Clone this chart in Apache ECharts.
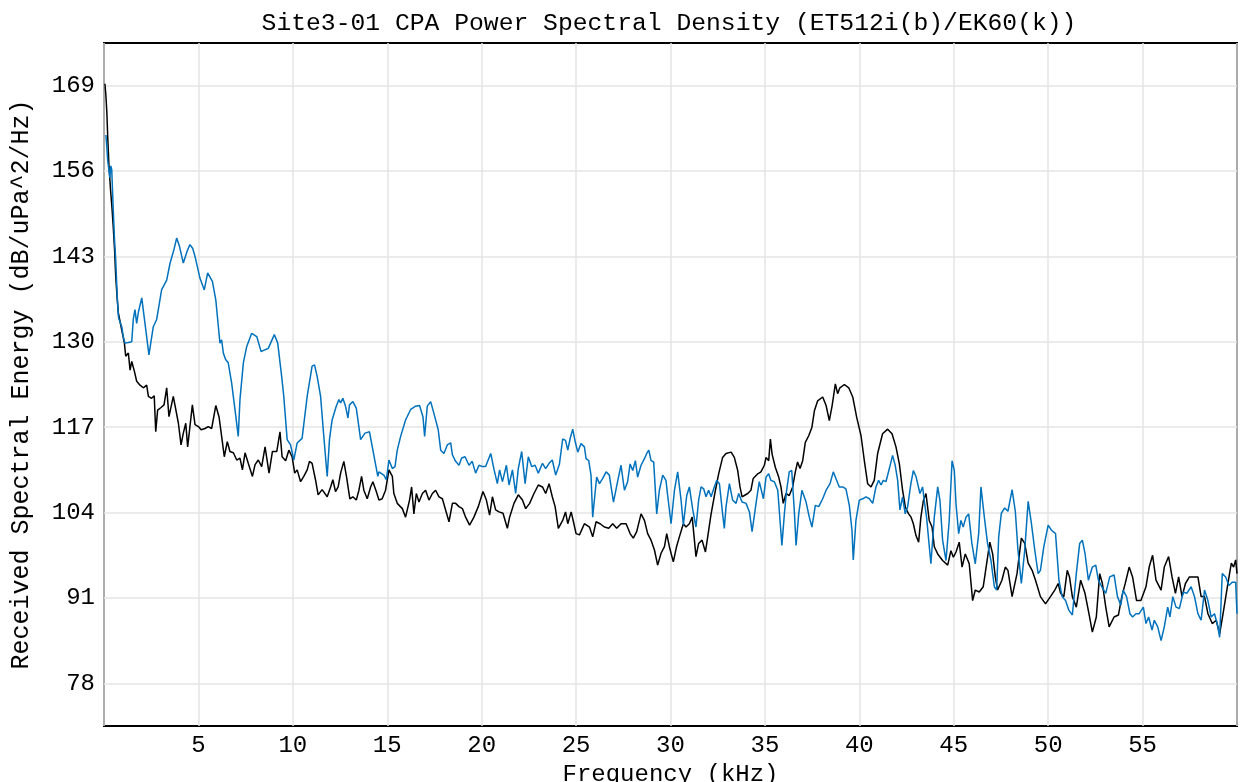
<!DOCTYPE html>
<html>
<head>
<meta charset="utf-8">
<script src="https://cdn.jsdelivr.net/npm/echarts@6/dist/echarts.min.js"></script>
<style>html,body{margin:0;padding:0;background:#fff}#c{width:1241px;height:782px}</style>
</head>
<body>
<div id="c"></div>
<script>
const titleText = 'Site3-01 CPA Power Spectral Density (ET512i(b)/EK60(k))';
const xName = 'Frequency (kHz)';
const yName = 'Received Spectral Energy (dB/uPa^2/Hz)';
const xTicks = [5,10,15,20,25,30,35,40,45,50,55];
const yTicks = [78,91,104,117,130,143,156,169];

// EK60 (k) - black
const ek60Freq = [0.05,0.1,0.15,0.2,0.26,0.35,0.42,0.49,0.56,0.62,0.7,0.76,0.94,1.08,1.15,1.29,1.38,1.47,1.61,1.73,1.91,2.08,2.26,2.35,2.52,2.66,2.74,2.84,3.02,3.18,3.32,3.44,3.67,3.94,4.08,4.2,4.33,4.43,4.68,4.82,5.0,5.14,5.35,5.52,5.7,5.92,6.09,6.23,6.37,6.53,6.67,6.85,7.03,7.2,7.33,7.47,7.64,7.86,8.0,8.17,8.35,8.53,8.74,8.92,9.15,9.32,9.43,9.62,9.79,9.96,10.1,10.23,10.41,10.58,10.76,10.88,11.02,11.2,11.34,11.55,11.82,12.0,12.12,12.26,12.4,12.53,12.7,12.84,13.02,13.18,13.36,13.5,13.64,13.76,13.94,14.12,14.24,14.42,14.56,14.73,14.91,15.09,15.27,15.35,15.53,15.8,15.97,16.18,16.29,16.41,16.54,16.68,16.86,17.03,17.21,17.39,17.56,17.74,17.92,18.09,18.27,18.45,18.62,18.8,18.98,19.15,19.36,19.59,19.82,20.07,20.25,20.42,20.57,20.74,20.92,21.13,21.36,21.48,21.71,21.94,22.16,22.33,22.54,22.77,23.0,23.22,23.39,23.57,23.74,23.89,24.06,24.29,24.44,24.56,24.74,24.86,25.0,25.18,25.44,25.71,25.88,26.06,26.27,26.5,26.73,26.94,27.15,27.38,27.65,27.86,28.03,28.21,28.44,28.62,28.79,28.97,29.15,29.32,29.5,29.68,29.8,29.94,30.15,30.32,30.47,30.68,30.82,31.0,31.15,31.35,31.49,31.67,31.85,31.97,32.15,32.38,32.55,32.76,32.94,33.21,33.38,33.56,33.68,33.79,33.91,34.09,34.26,34.38,34.62,34.79,34.97,35.06,35.2,35.29,35.38,35.55,35.73,35.85,35.97,36.12,36.29,36.47,36.61,36.73,36.86,37.0,37.14,37.32,37.49,37.62,37.79,38.06,38.24,38.41,38.56,38.73,38.85,38.97,39.21,39.44,39.65,39.86,40.09,40.26,40.44,40.62,40.79,40.97,41.23,41.5,41.73,41.94,42.12,42.29,42.44,42.61,42.74,42.86,43.0,43.14,43.26,43.39,43.53,43.7,43.85,43.97,44.15,44.41,44.68,44.85,44.98,45.12,45.29,45.44,45.61,45.82,46.0,46.14,46.35,46.56,46.74,46.91,47.06,47.2,47.32,47.55,47.73,47.87,48.09,48.35,48.58,48.76,48.94,49.15,49.33,49.59,49.86,50.12,50.35,50.53,50.66,50.83,51.01,51.13,51.28,51.49,51.72,51.95,52.16,52.34,52.55,52.73,52.87,53.05,53.23,53.49,53.72,53.9,54.08,54.29,54.47,54.68,54.91,55.18,55.35,55.53,55.71,55.98,56.15,56.38,56.56,56.74,56.91,57.09,57.27,57.48,57.75,57.93,58.1,58.28,58.46,58.69,58.9,59.08,59.29,59.52,59.7,59.82,59.93,60.0];
const ek60Level = [169.3,167.5,165,161,157,153,150.5,147.5,144,140,136.5,134.4,131.8,129.8,127.8,128.3,125.7,127.0,125.5,124.0,123.4,123.0,123.4,121.7,121.4,121.8,116.3,119.6,120.0,120.4,123.0,118.6,121.7,117.6,114.3,116.1,117.6,114.0,120.4,117.4,117.1,116.6,116.8,117.1,116.8,120.3,118.6,115.6,112.5,114.8,113.3,113.1,112.0,112.3,110.5,113.1,111.5,109.5,111.3,112.0,111.0,114.0,110.0,113.3,113.3,116.3,112.5,111.9,113.5,112.5,110.0,110.5,108.7,109.5,110.5,111.8,111.5,109.0,106.7,107.5,106.4,107.9,109.0,107.2,107.9,110.0,111.8,109.5,106.1,106.4,105.9,107.4,109.5,107.4,106.1,107.9,108.7,107.2,105.9,106.1,107.4,110.5,109.5,106.9,105.4,104.6,103.3,105.9,107.9,103.8,106.9,105.6,106.9,107.4,105.9,106.9,107.4,106.4,106.1,104.4,102.6,105.4,105.4,104.9,104.6,103.3,102.1,103.3,104.9,107.2,105.9,103.6,106.4,104.4,104.1,103.9,101.6,103.3,105.4,106.7,105.9,104.6,105.4,106.9,108.2,107.9,106.9,108.4,106.4,104.9,101.6,102.8,104.1,102.3,104.1,102.6,100.8,100.6,102.3,101.8,100.3,102.6,102.3,101.8,101.6,102.3,101.6,102.3,102.3,100.8,100.1,101.1,103.8,102.8,100.8,99.8,98.3,96.0,97.8,98.8,100.8,98.8,96.5,98.8,100.3,102.3,101.8,102.3,103.3,97.3,99.3,99.8,98.0,100.3,103.8,107.4,109.9,112.4,113.0,113.2,112.4,110.4,107.9,106.4,106.6,106.9,107.4,109.2,109.9,110.2,111.2,112.4,111.9,115.2,112.9,110.9,109.4,107.9,105.4,106.9,106.6,107.9,110.2,111.7,110.7,111.9,114.7,115.7,117.0,119.5,121.0,121.6,120.3,118.0,120.3,123.6,122.1,123.0,123.5,123.0,121.6,118.5,115.7,112.0,108.4,107.9,108.9,113.0,116.0,116.7,116.0,114.0,111.4,107.4,104.8,103.8,103.3,102.3,100.5,99.5,103.3,105.8,106.9,102.8,101.8,98.8,97.7,96.7,96.0,98.2,97.2,98.0,99.5,95.7,97.7,96.2,90.6,92.2,91.9,92.7,96.2,99.5,97.7,94.2,92.2,93.7,95.7,95.2,91.2,94.7,100.1,99.3,96.3,95.2,93.7,91.2,90.1,91.2,92.2,93.2,91.7,91.2,95.2,94.2,91.2,89.6,93.7,91.7,88.6,85.8,88.1,94.7,93.2,89.6,86.6,88.1,88.4,91.2,93.2,95.7,94.2,90.6,90.6,92.7,95.7,97.5,93.7,92.2,95.7,97.3,94.2,91.7,94.2,91.2,93.2,94.2,94.2,94.2,91.2,91.2,88.6,87.1,87.6,85.5,89.1,93.2,96.3,95.7,96.8,94.7];

// ET512i (b) - blue
const et512Freq = [0.1,0.14,0.2,0.26,0.31,0.36,0.41,0.49,0.55,0.62,0.7,0.76,0.8,0.94,1.02,1.11,1.3,1.47,1.55,1.64,1.73,1.82,2.0,2.17,2.38,2.61,2.79,3.05,3.32,3.5,3.7,3.85,4.0,4.2,4.4,4.55,4.7,4.82,5.08,5.31,5.49,5.74,5.92,6.14,6.23,6.32,6.44,6.58,6.76,6.94,7.11,7.2,7.38,7.56,7.82,8.09,8.32,8.53,8.7,9.02,9.2,9.41,9.52,9.7,9.88,10.05,10.23,10.49,10.76,11.02,11.15,11.29,11.47,11.64,11.82,11.94,12.08,12.3,12.44,12.53,12.65,12.79,12.92,13.0,13.18,13.36,13.59,13.82,14.06,14.24,14.5,14.56,14.82,14.95,15.09,15.27,15.41,15.53,15.71,15.97,16.24,16.5,16.71,16.89,16.98,17.12,17.3,17.47,17.7,17.83,18.0,18.18,18.36,18.45,18.62,18.8,18.94,19.12,19.33,19.5,19.68,19.86,20.04,20.21,20.48,20.66,20.83,20.95,21.1,21.31,21.45,21.63,21.8,21.94,22.12,22.3,22.47,22.65,22.83,23.0,23.22,23.39,23.57,23.74,23.92,24.12,24.29,24.44,24.56,24.68,24.82,24.96,25.09,25.26,25.44,25.53,25.67,25.79,25.88,26.02,26.09,26.24,26.41,26.59,26.76,26.98,27.21,27.38,27.56,27.73,27.86,28.0,28.14,28.26,28.44,28.62,28.74,28.85,28.97,29.11,29.27,29.41,29.59,29.76,29.85,30.03,30.21,30.38,30.56,30.68,30.86,31.0,31.18,31.35,31.49,31.62,31.76,31.88,32.02,32.15,32.32,32.45,32.59,32.76,32.85,32.94,33.12,33.29,33.47,33.61,33.79,34.0,34.18,34.32,34.53,34.7,34.92,35.06,35.2,35.32,35.5,35.68,35.8,35.9,36.03,36.15,36.29,36.42,36.56,36.65,36.79,36.96,37.18,37.35,37.49,37.67,37.85,38.06,38.24,38.45,38.62,38.76,38.94,39.12,39.29,39.47,39.61,39.68,39.82,40.0,40.18,40.35,40.53,40.71,40.88,41.02,41.15,41.27,41.41,41.59,41.76,41.9,42.03,42.15,42.29,42.43,42.56,42.73,42.86,43.0,43.21,43.35,43.44,43.56,43.79,43.97,44.15,44.27,44.41,44.59,44.76,44.91,45.03,45.12,45.26,45.38,45.5,45.65,45.79,45.96,46.14,46.32,46.44,46.62,46.79,46.97,47.15,47.27,47.38,47.52,47.7,47.87,48.09,48.26,48.4,48.58,48.76,48.94,49.11,49.29,49.47,49.59,49.77,50.0,50.18,50.39,50.57,50.74,50.92,51.1,51.28,51.49,51.67,51.81,51.95,52.13,52.34,52.52,52.66,52.84,53.05,53.26,53.49,53.67,53.85,53.97,54.15,54.33,54.47,54.65,54.82,55.04,55.18,55.32,55.5,55.62,55.8,55.98,56.15,56.33,56.45,56.6,56.77,56.95,57.16,57.34,57.57,57.75,57.93,58.1,58.28,58.46,58.63,58.81,58.99,59.08,59.22,59.4,59.57,59.75,59.93,60.0];
const et512Level = [161.5,160,157.5,157.2,155,156.8,156.2,150.1,146,142.5,137,133.9,133.4,132.3,130.8,129.8,129.9,130.0,133.4,134.9,132.8,134.5,136.7,132.8,128.0,132.3,133.4,137.9,139.4,142.0,144.0,145.8,144.5,142.0,143.8,144.8,144.2,143.0,139.7,137.9,140.5,139.2,136.4,129.8,130.3,128.3,127.3,126.8,123.7,119.6,115.6,121.2,126.8,129.3,131.3,130.8,128.5,128.8,129.0,131.1,129.8,124.7,121.7,115.1,114.3,112.0,114.6,115.3,121.7,126.3,126.5,124.7,121.7,115.6,109.5,115.1,118.1,120.2,121.2,120.7,121.4,120.2,118.4,120.4,120.9,119.9,115.1,116.1,116.3,113.5,109.5,110.2,109.7,109.0,112.0,110.7,111.0,113.5,115.6,118.1,119.7,120.2,120.3,118.6,115.6,120.2,120.9,119.1,116.6,113.5,113.0,114.3,114.6,112.8,111.8,111.2,112.3,112.5,111.2,111.8,110.0,111.2,111.0,111.0,113.0,110.5,108.4,110.5,108.7,111.2,108.2,110.5,106.9,110.7,113.3,108.4,112.5,111.0,111.2,110.0,111.5,110.7,111.5,112.0,109.7,111.4,115.2,115.0,113.5,115.2,116.7,114.7,113.2,114.5,114.0,112.2,111.9,109.7,103.3,107.4,109.4,108.4,109.2,110.2,109.7,105.6,108.9,111.2,107.4,108.7,111.4,110.4,111.9,109.4,111.2,112.2,113.0,113.5,111.9,111.7,103.8,107.4,109.7,108.9,106.6,102.3,107.4,110.2,105.9,102.1,106.6,107.9,104.4,101.8,105.9,107.9,107.6,106.4,107.4,106.4,107.9,108.9,108.4,103.8,101.6,104.9,108.4,105.9,105.4,106.9,105.6,105.4,104.1,101.1,105.4,108.7,106.1,109.4,109.9,108.9,108.7,107.4,102.8,99.0,103.8,107.4,110.2,110.4,104.1,99.0,103.8,107.4,105.6,103.3,101.8,105.1,104.9,106.1,107.4,108.4,110.2,109.2,107.9,107.9,107.6,105.1,101.3,96.8,102.8,105.9,106.1,106.4,106.1,105.4,107.9,108.9,108.2,108.9,108.7,110.7,112.7,111.2,108.9,104.4,106.4,103.8,104.9,108.4,110.4,109.5,106.9,107.9,105.8,103.3,96.2,103.3,107.9,105.8,99.8,96.7,102.8,111.9,110.4,105.3,100.8,102.8,101.8,103.3,103.8,99.3,96.2,100.8,107.9,103.3,99.3,96.7,92.7,92.2,100.3,103.9,104.7,104.2,107.5,104.2,98.3,93.2,98.3,105.7,102.4,98.3,94.7,95.2,98.8,102.1,101.3,100.8,93.7,91.2,90.6,89.1,88.4,94.7,99.3,99.8,97.8,93.7,95.7,96.0,93.7,92.7,91.7,94.2,94.5,91.2,89.9,92.2,91.2,88.6,88.1,88.6,88.6,89.6,87.1,88.1,86.1,87.6,86.6,84.5,86.6,89.6,88.1,91.2,89.6,89.4,91.9,91.7,92.7,91.2,88.6,87.6,92.2,90.6,88.1,88.6,86.6,85.0,94.7,94.2,92.9,93.4,93.4,88.6];

const zip = (a, b) => a.map((v, i) => [v, b[i]]);
const FONT = 'Liberation Mono';

const chart = echarts.init(document.getElementById('c'), null, {renderer: 'canvas'});
chart.setOption({
  animation: false,
  backgroundColor: '#fff',
  title: {
    text: titleText,
    left: 664, top: 6, textAlign: 'center',
    textStyle: {fontFamily: FONT, fontSize: 24.7, fontWeight: 'normal', color: '#000'}
  },
  grid: {left: 104, top: 43, right: 4, bottom: 56, containLabel: false, outerBoundsMode: 'none',
         show: true, borderColor: '#000', borderWidth: 2, backgroundColor: 'transparent'},
  xAxis: {
    type: 'value', min: 0, max: 60, interval: 5,
    name: xName, nameLocation: 'middle', nameGap: 31,
    nameTextStyle: {fontFamily: FONT, fontSize: 24, color: '#000'},
    axisLine: {show: false}, axisTick: {show: false},
    axisLabel: {
      margin: 8, fontFamily: FONT, fontSize: 24, color: '#000',
      formatter: v => xTicks.some(t => Math.abs(t - v) < 1e-6) ? String(v) : ''
    },
    splitLine: {show: true, lineStyle: {color: '#e4e4e4', width: 1.5}}
  },
  yAxis: {
    type: 'value', min: 71.5, max: 175.5, interval: 6.5,
    name: yName, nameLocation: 'middle', nameGap: 70, nameRotate: 90,
    nameTextStyle: {fontFamily: FONT, fontSize: 25, color: '#000'},
    axisLine: {show: false}, axisTick: {show: false},
    axisLabel: {
      margin: 9, fontFamily: FONT, fontSize: 24, color: '#000',
      formatter: v => yTicks.some(t => Math.abs(t - v) < 1e-6) ? String(v) : ''
    },
    splitLine: {show: true, lineStyle: {color: ['rgba(0,0,0,0)', '#e4e4e4'], width: 1.5}}
  },
  series: [
    {name: 'EK60(k)', type: 'line', data: zip(ek60Freq, ek60Level), showSymbol: false, symbol: 'none',
     lineStyle: {color: '#000000', width: 1.5}, itemStyle: {color: '#000'}, z: 2},
    {name: 'ET512i(b)', type: 'line', data: zip(et512Freq, et512Level), showSymbol: false, symbol: 'none',
     lineStyle: {color: '#0072bd', width: 1.5}, itemStyle: {color: '#0072bd'}, z: 3}
  ]
});
</script>
</body>
</html>
